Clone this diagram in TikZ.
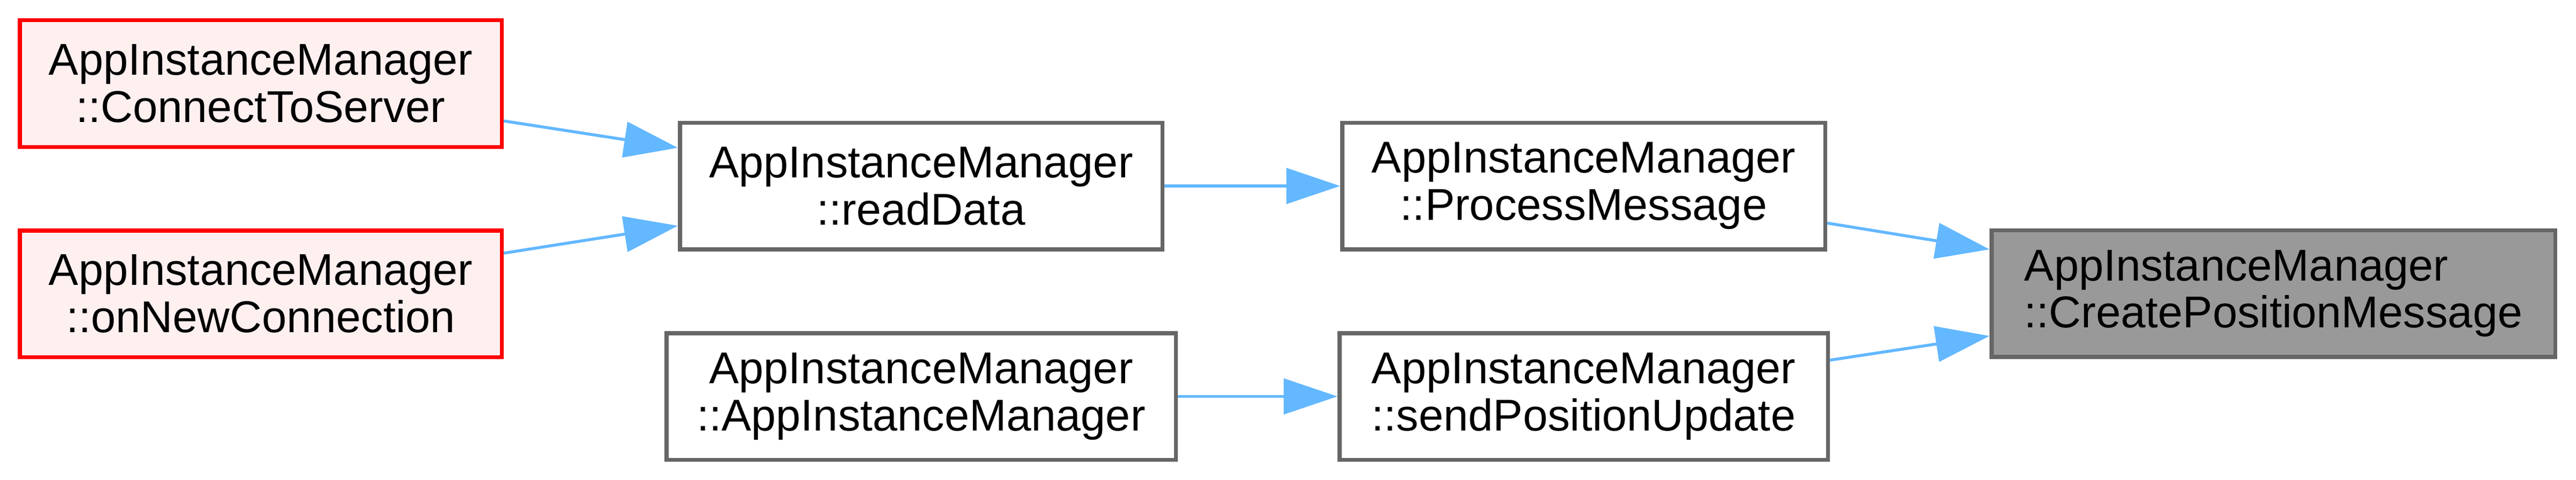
\documentclass[tikz,border=0pt]{standalone}
\usepackage{fontspec}
\setmainfont{Liberation Sans}
\usepackage{xcolor}
\usepackage{tikz}
\usetikzlibrary{arrows.meta, positioning, calc}
\definecolor{edgeblue}{RGB}{99, 184, 255}
\definecolor{boxgray}{RGB}{102, 102, 102}
\definecolor{rootgray}{RGB}{153, 153, 153}
\definecolor{callred}{RGB}{255, 0, 0}
\definecolor{callpink}{RGB}{255, 240, 240}

\begin{document}
\begin{tikzpicture}[
    fnbox/.style={draw=boxgray, fill=white, line width=0.075cm, minimum height=2.355cm,
        inner sep=0pt, align=center, font=\fontsize{23.6}{25}\selectfont},
    callerbox/.style={fnbox, draw=callred, fill=callpink},
    rootbox/.style={fnbox, fill=rootgray, align=left},
    calledge/.style={draw=edgeblue, line width=0.055cm, -{Triangle[length=1cm, width=0.66cm]}}
]
    \useasboundingbox (0,0) rectangle (47.92,-8.92);
    % callers on the left
    \node[callerbox, minimum width=8.965cm] (connect) at (4.85,-1.555) {AppInstanceManager\\::ConnectToServer};
    \node[callerbox, minimum width=8.965cm] (newconn) at (4.85,-5.465) {AppInstanceManager\\::onNewConnection};
    \node[fnbox, minimum width=8.975cm] (readdata) at (17.135,-3.46) {AppInstanceManager\\::readData};
    \node[fnbox, minimum width=9.475cm] (ctor) at (17.135,-7.375) {AppInstanceManager\\::AppInstanceManager};
    \node[fnbox, minimum width=8.985cm] (process) at (29.46,-3.46) {AppInstanceManager\\::ProcessMessage};
    \node[fnbox, minimum width=9.085cm] (sendpos) at (29.46,-7.375) {AppInstanceManager\\::sendPositionUpdate};
    % the function itself
    \node[rootbox, minimum width=10.485cm] (create) at (42.29,-5.46) {AppInstanceManager\\::CreatePositionMessage};

    \draw[calledge] ([yshift=-0.695cm]connect.east) -- ([yshift=0.71cm]readdata.west);
    \draw[calledge] ([yshift=0.755cm]newconn.east) -- ([yshift=-0.74cm]readdata.west);
    \draw[calledge] (readdata) -- (process);
    \draw[calledge] (ctor) -- (sendpos);
    \draw[calledge] ([yshift=-0.69cm]process.east) -- ([yshift=0.82cm]create.west);
    \draw[calledge] ([yshift=0.675cm]sendpos.east) -- ([yshift=-0.79cm]create.west);
\end{tikzpicture}
\end{document}
